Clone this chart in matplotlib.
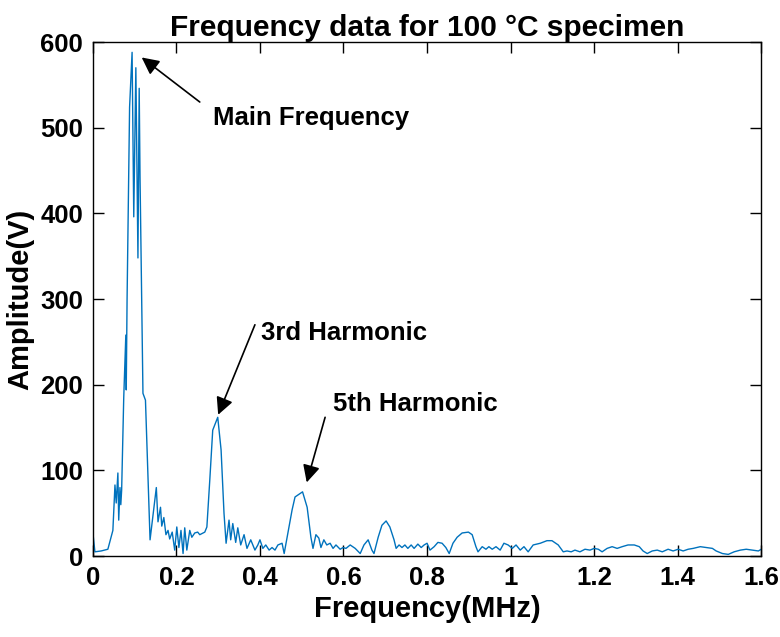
import numpy as np
import matplotlib
matplotlib.use('Agg')
from matplotlib import pyplot as plt
from matplotlib.ticker import FuncFormatter

plt.rcParams['font.family'] = ['Liberation Sans', 'DejaVu Sans']
plt.rcParams['font.weight'] = 'bold'

##############################################
## spectrum
##############################################
freq = [0.000, 0.005, 0.020, 0.036, 0.048, 0.053, 0.056, 0.060, 0.062, 0.065,
        0.067, 0.069, 0.074, 0.079, 0.080, 0.082, 0.088, 0.094, 0.098, 0.103,
        0.108, 0.111, 0.113, 0.120, 0.126, 0.137, 0.152, 0.156, 0.162, 0.165,
        0.170, 0.175, 0.180, 0.184, 0.190, 0.196, 0.201, 0.206, 0.211, 0.216,
        0.220, 0.225, 0.232, 0.237, 0.244, 0.251, 0.256, 0.268, 0.273, 0.280,
        0.287, 0.299, 0.307, 0.314, 0.319, 0.326, 0.330, 0.335, 0.342, 0.347,
        0.354, 0.362, 0.369, 0.378, 0.388, 0.395, 0.400, 0.407, 0.414, 0.422,
        0.429, 0.436, 0.443, 0.453, 0.458, 0.467, 0.477, 0.484, 0.502, 0.513,
        0.522, 0.527, 0.534, 0.541, 0.546, 0.553, 0.560, 0.568, 0.575, 0.582,
        0.592, 0.599, 0.606, 0.616, 0.628, 0.640, 0.649, 0.659, 0.668, 0.673,
        0.683, 0.692, 0.702, 0.711, 0.721, 0.726, 0.733, 0.740, 0.747, 0.754,
        0.762, 0.769, 0.778, 0.786, 0.793, 0.800, 0.807, 0.817, 0.826, 0.836,
        0.845, 0.853, 0.862, 0.872, 0.884, 0.899, 0.908, 0.917, 0.922, 0.932,
        0.941, 0.948, 0.956, 0.965, 0.975, 0.984, 0.994, 1.004, 1.013, 1.023,
        1.032, 1.042, 1.054, 1.071, 1.087, 1.099, 1.114, 1.126, 1.135, 1.145,
        1.154, 1.166, 1.178, 1.190, 1.200, 1.210, 1.219, 1.231, 1.243, 1.255,
        1.267, 1.281, 1.296, 1.308, 1.317, 1.327, 1.339, 1.351, 1.363, 1.377,
        1.389, 1.401, 1.413, 1.425, 1.437, 1.454, 1.468, 1.483, 1.492, 1.507,
        1.521, 1.535, 1.550, 1.564, 1.578, 1.593, 1.600]
amp = [28, 5, 6, 8, 30, 83, 62, 97, 42, 80,
       60, 77, 185, 258, 194, 300, 524, 588, 396, 570,
       348, 546, 442, 190, 182, 19, 80, 40, 57, 35,
       45, 25, 30, 20, 28, 7, 34, 10, 30, 3,
       33, 7, 30, 22, 27, 28, 25, 28, 34, 89,
       147, 162, 124, 50, 15, 42, 19, 38, 16, 33,
       13, 25, 9, 19, 7, 13, 19, 9, 13, 7,
       10, 7, 13, 15, 3, 27, 54, 69, 75, 57,
       22, 9, 25, 21, 10, 19, 13, 15, 9, 13,
       8, 10, 9, 13, 9, 3, 13, 19, 7, 3,
       22, 36, 41, 34, 19, 9, 13, 10, 13, 9,
       13, 9, 14, 10, 13, 15, 7, 11, 16, 15,
       10, 3, 15, 22, 27, 28, 25, 11, 5, 11,
       8, 11, 8, 11, 7, 15, 13, 9, 13, 7,
       11, 5, 13, 15, 18, 18, 13, 5, 6, 5,
       7, 5, 8, 7, 9, 8, 5, 9, 11, 9,
       11, 13, 13, 11, 6, 3, 6, 7, 5, 8,
       6, 8, 6, 8, 9, 11, 10, 9, 6, 3,
       2, 5, 7, 8, 7, 6, 8]

xticks = [0, 0.2, 0.4, 0.6, 0.8, 1.0, 1.2, 1.4, 1.6]
yticks = [0, 100, 200, 300, 400, 500, 600]

fig = plt.figure(figsize=(7.8, 6.37), dpi=100)
ax = fig.add_axes([0.119, 0.127, 0.857, 0.807])
ax.plot(freq, amp, color='#0072BD', linewidth=1.0)

ax.set_xlim(0, 1.6)
ax.set_ylim(0, 600)
ax.set_xticks(xticks)
ax.set_yticks(yticks)
ax.xaxis.set_major_formatter(FuncFormatter(lambda v, p: '%g' % v))
ax.tick_params(direction='in', length=8, width=1, top=True, right=True,
               labelsize=18.5, pad=7)
for s in ax.spines.values():
    s.set_linewidth(1.0)

ax.set_title('Frequency data for 100 °C specimen', fontsize=21.5,
             fontweight='bold', pad=4)
ax.set_xlabel('Frequency(MHz)', fontsize=21, fontweight='bold', labelpad=4)
ax.set_ylabel('Amplitude(V)', fontsize=21, fontweight='bold', labelpad=4)

##############################################
## annotations
##############################################
aprops = dict(arrowstyle='-|>', color='black', lw=1.2,
              mutation_scale=26, shrinkA=0, shrinkB=0)
ax.annotate('', xy=(0.117, 582), xytext=(0.256, 530), arrowprops=aprops)
ax.text(0.287, 511, 'Main Frequency', fontsize=18.5, fontweight='bold',
        va='center', ha='left')
ax.annotate('', xy=(0.300, 165), xytext=(0.388, 270), arrowprops=aprops)
ax.text(0.402, 260, '3rd Harmonic', fontsize=18.5, fontweight='bold',
        va='center', ha='left')
ax.annotate('', xy=(0.512, 86), xytext=(0.556, 162), arrowprops=aprops)
ax.text(0.575, 177, '5th Harmonic', fontsize=18.5, fontweight='bold',
        va='center', ha='left')

plt.savefig('out.png', dpi=100)
